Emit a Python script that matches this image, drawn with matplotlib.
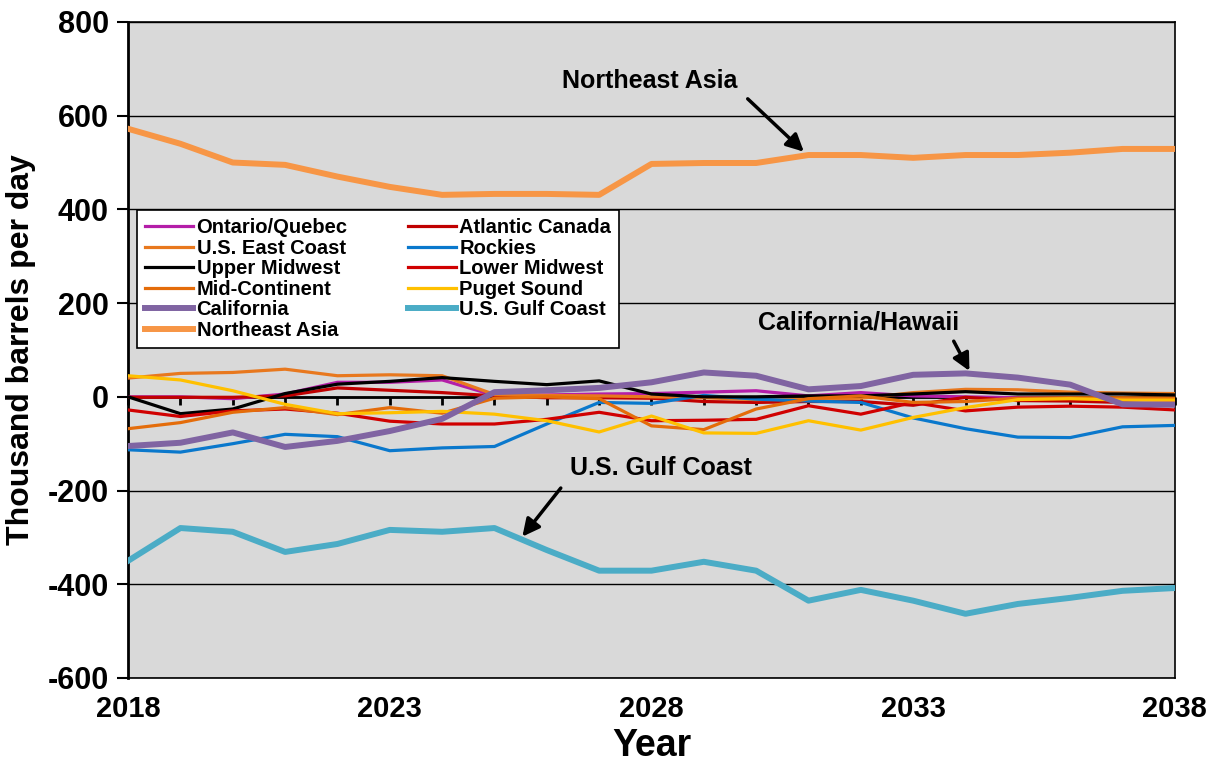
import numpy as np
import matplotlib
matplotlib.use('Agg')
import matplotlib.pyplot as plt
from matplotlib.font_manager import FontProperties

plt.rcParams['axes.unicode_minus'] = False

# trade balance by region, thousand barrels per day
years = list(range(2018, 2039))

ontario_quebec = [0, 0, -4, 6, 31, 31, 36, 3, 4, 6, 7, 10, 13, 2, 9, 2, 0, -2, -3, -5, -8]
atlantic_canada = [-1, -1, -1, 2, 19, 14, 9, 2, -2, -2, -3, -10, -12, -10, -10, -18, -1, -8, -9, -12, -18]
us_east_coast = [40, 50, 52, 59, 45, 47, 45, 5, 3, 2, 0, -2, -6, -5, -3, 9, 16, 15, 10, 8, 7]
rockies = [-113, -118, -100, -80, -85, -115, -109, -106, -58, -12, -14, 3, -5, -9, -12, -45, -68, -86, -87, -64, -61]
upper_midwest = [0, -36, -26, 7, 27, 33, 41, 33, 26, 34, 6, 0, 0, 2, 2, 6, 11, 6, 6, 6, 4]
lower_midwest = [-28, -42, -30, -26, -35, -52, -58, -58, -48, -33, -51, -50, -48, -19, -37, -12, -30, -22, -20, -22, -28]
mid_continent = [-68, -55, -33, -23, -38, -23, -35, -3, 0, -4, -62, -70, -26, -4, 2, -12, -10, -3, -2, -2, -3]
puget_sound = [45, 36, 13, -16, -36, -34, -31, -37, -51, -75, -41, -77, -78, -51, -71, -44, -23, -6, -4, -7, -7]
california = [-105, -98, -76, -107, -94, -73, -47, 10, 14, 19, 31, 52, 45, 16, 23, 47, 50, 41, 26, -16, -17]
us_gulf_coast = [-350, -280, -288, -331, -314, -284, -288, -280, -327, -371, -371, -352, -371, -435, -412, -435, -463, -442, -429, -414, -408]
northeast_asia = [572, 540, 500, 495, 470, 448, 431, 433, 433, 431, 497, 499, 499, 516, 516, 510, 516, 516, 521, 529, 529]

series = [
    ('Ontario/Quebec', ontario_quebec, '#B41EA8', 2.3),
    ('Atlantic Canada', atlantic_canada, '#C00000', 2.3),
    ('U.S. East Coast', us_east_coast, '#E8781E', 2.3),
    ('Rockies', rockies, '#0A78CC', 2.3),
    ('Upper Midwest', upper_midwest, '#000000', 2.3),
    ('Lower Midwest', lower_midwest, '#D00000', 2.3),
    ('Mid-Continent', mid_continent, '#E46C0A', 2.3),
    ('Puget Sound', puget_sound, '#FFC000', 2.3),
    ('California', california, '#8064A2', 4.3),
    ('U.S. Gulf Coast', us_gulf_coast, '#4BACC6', 4.3),
    ('Northeast Asia', northeast_asia, '#F79646', 4.3),
]

bold = dict(family=['Liberation Sans', 'DejaVu Sans'], weight='bold')

fig = plt.figure(figsize=(12.2, 7.7), dpi=100)
ax = fig.add_axes([0.105, 0.1195, 0.858, 0.852])
ax.set_facecolor('#d9d9d9')

handles = []
for name, vals, col, lw in series:
    h, = ax.plot(years, vals, color=col, lw=lw, label=name, solid_joinstyle='round', zorder=3)
    handles.append(h)

ax.set_xlim(2018, 2038)
ax.set_ylim(-600, 800)
ax.set_yticks(np.arange(-600, 801, 200))
ax.yaxis.grid(True, color='black', lw=1)
ax.set_axisbelow(True)
for s in ax.spines.values():
    s.set_color('black')
    s.set_linewidth(1.2)
ax.spines['left'].set_linewidth(2)

ax.set_xticks([2018, 2023, 2028, 2033, 2038])
ax.tick_params(axis='x', length=0, pad=12)
ax.tick_params(axis='y', length=8, width=1.5, direction='out', pad=6)
for lab in ax.get_yticklabels():
    lab.set_fontproperties(FontProperties(size=22, **bold))
for lab in ax.get_xticklabels():
    lab.set_fontproperties(FontProperties(size=21, **bold))

# zero line carries the yearly tick marks
ax.axhline(0, color='black', lw=2, zorder=2)
zero_pos = (0 - (-600)) / 1400
sec = ax.secondary_xaxis(zero_pos)
sec.set_xticks(years)
sec.set_xticklabels([])
sec.tick_params(length=6, width=2, direction='out')
sec.spines['bottom'].set_visible(False)

ax.set_ylabel('Thousand barrels per day', fontsize=23, labelpad=8, **bold)
ax.set_xlabel('Year', fontsize=27, labelpad=4, **bold)

# legend filled row by row
order = handles[0::2] + handles[1::2]
leg = ax.legend(order, [h.get_label() for h in order], ncol=2, loc='upper left',
                bbox_to_anchor=(0.0086, 0.7134), borderaxespad=0, frameon=True,
                fancybox=False, edgecolor='black', framealpha=1,
                prop=dict(size=14.5, **bold), handlelength=2.4, handletextpad=0.15,
                labelspacing=0.08, columnspacing=3.0, borderpad=0.4)
leg.get_frame().set_linewidth(1.2)
leg.set_zorder(5)

# callouts
arrow = dict(arrowstyle='-|>', color='black', lw=2.5, mutation_scale=26)
ax.text(2027.97, 675, 'Northeast Asia', ha='center', va='center', fontsize=18, **bold)
ax.annotate('', xy=(2030.95, 519), xytext=(2029.8, 640), arrowprops=arrow)
ax.text(2031.96, 158, 'California/Hawaii', ha='center', va='center', fontsize=18, **bold)
ax.annotate('', xy=(2034.1, 50), xytext=(2033.75, 124), arrowprops=arrow)
ax.text(2028.18, -152, 'U.S. Gulf Coast', ha='center', va='center', fontsize=18, **bold)
ax.annotate('', xy=(2025.5, -303), xytext=(2026.3, -190), arrowprops=arrow)

fig.savefig('out.png', dpi=100, facecolor='white')
